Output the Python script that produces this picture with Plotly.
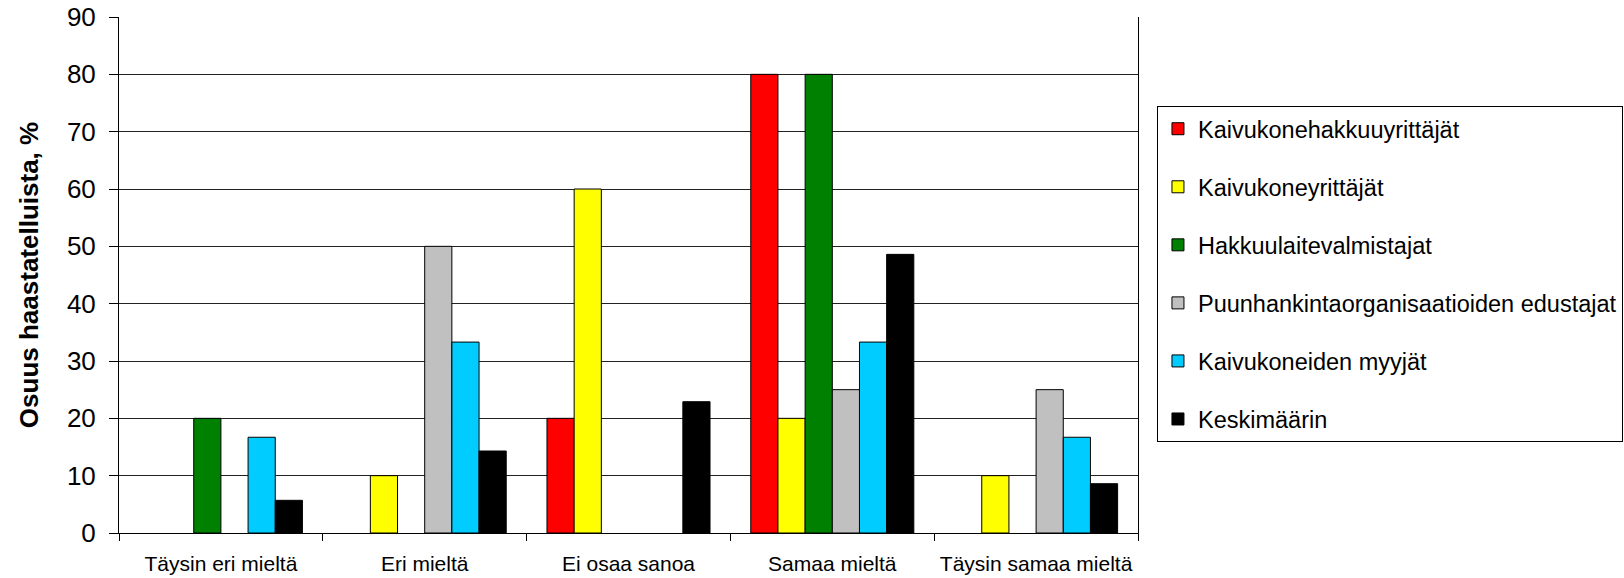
import plotly.graph_objects as go

categories = ["Täysin eri mieltä", "Eri mieltä", "Ei osaa sanoa", "Samaa mieltä", "Täysin samaa mieltä"]
series_names = ["Kaivukonehakkuuyrittäjät", "Kaivukoneyrittäjät", "Hakkuulaitevalmistajat",
                "Puunhankintaorganisaatioiden edustajat", "Kaivukoneiden myyjät", "Keskimäärin"]
kaivukonehakkuuyrittajat = [0, 0, 20, 80, 0]
kaivukoneyrittajat = [0, 10, 60, 20, 10]
hakkuulaitevalmistajat = [20, 0, 0, 80, 0]
puunhankinta = [0, 50, 0, 25, 25]
myyjat = [16.7, 33.3, 0, 33.3, 16.7]
keskimaarin = [5.7, 14.3, 22.9, 48.6, 8.6]
colors = ["#FF0000", "#FFFF00", "#008000", "#C0C0C0", "#00CCFF", "#000000"]
y_ticks = [0, 10, 20, 30, 40, 50, 60, 70, 80, 90]

values = [kaivukonehakkuuyrittajat, kaivukoneyrittajat, hakkuulaitevalmistajat,
          puunhankinta, myyjat, keskimaarin]

FONT = "Liberation Sans, Arial, sans-serif"

fig = go.Figure()
for i, (name, vals, col) in enumerate(zip(series_names, values, colors)):
    fig.add_trace(go.Bar(
        x=categories, y=[v if v != 0 else None for v in vals], name=name, legendgroup=f"g{i}",
        marker=dict(color=col, line=dict(color="#000000", width=1)),
    ))

fig.update_layout(
    width=1624, height=578,
    margin=dict(l=119, r=486, t=17, b=45, autoexpand=False),
    paper_bgcolor="white", plot_bgcolor="white",
    barmode="group", bargap=0.2, bargroupgap=0,
    font=dict(family=FONT, color="black"),
    showlegend=True,
    legend=dict(
        x=1.0186, xanchor="left", y=0.8276, yanchor="top",
        bordercolor="black", borderwidth=1,
        font=dict(family=FONT, size=23.5, color="black"),
        tracegroupgap=24.5, bgcolor="white",
    ),
    xaxis=dict(
        type="category", showline=True, linecolor="black", linewidth=1,
        ticks="outside", tickson="boundaries", ticklen=7, tickcolor="black",
        ticklabelstandoff=12, tickangle=0, automargin=False,
        tickfont=dict(family=FONT, size=21, color="black"),
        showgrid=False, zeroline=False,
    ),
    yaxis=dict(
        range=[0, 90], tickvals=y_ticks, showline=True, linecolor="black", linewidth=1,
        mirror=True, automargin=False,
        ticks="outside", ticklen=9, tickcolor="black", ticklabelstandoff=8,
        tickfont=dict(family=FONT, size=26, color="black"),
        showgrid=True, gridcolor="#222222", gridwidth=1, zeroline=False,
        title=dict(text="<b>Osuus haastatelluista, %</b>",
                   font=dict(family=FONT, size=26, color="black"), standoff=20),
    ),
)

fig.write_html("out.html")
